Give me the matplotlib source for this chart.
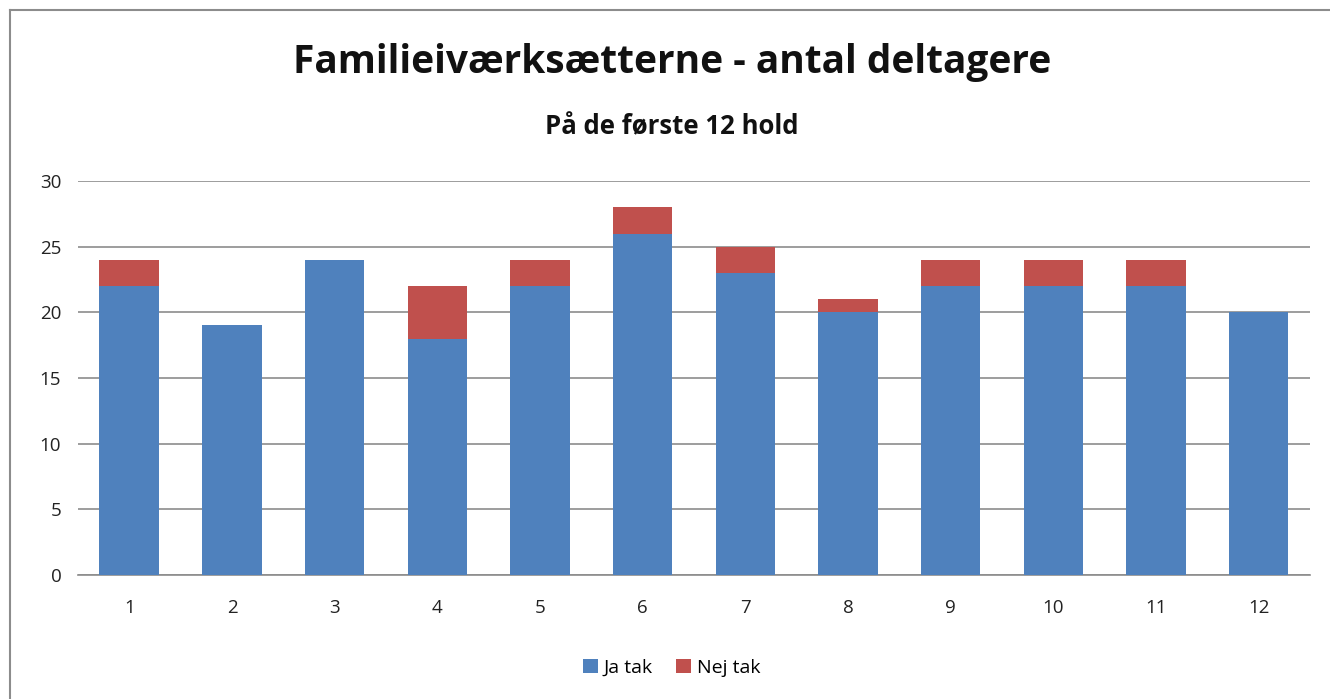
import matplotlib.pyplot as plt
import numpy as np

plt.rcParams['font.family'] = ['Open Sans', 'DejaVu Sans']

hold = ['1', '2', '3', '4', '5', '6', '7', '8', '9', '10', '11', '12']
ja_tak = [22, 19, 24, 18, 22, 26, 23, 20, 22, 22, 22, 20]
nej_tak = [2, 0, 0, 4, 2, 2, 2, 1, 2, 2, 2, 0]

fig = plt.figure(figsize=(13.3, 6.99), dpi=100)
ax = fig.add_axes([0.0586, 0.1774, 0.9264, 0.5636])

x = np.arange(len(hold))
ax.bar(x, ja_tak, width=0.58, color='#4F81BD', label='Ja tak', zorder=3)
ax.bar(x, nej_tak, width=0.58, bottom=ja_tak, color='#C0504D', label='Nej tak', zorder=3)

ax.set_xlim(-0.5, len(hold) - 0.5)
ax.set_ylim(0, 30)
ax.set_yticks(range(0, 31, 5))
ax.set_xticks(x)
ax.set_xticklabels(hold)
ax.yaxis.grid(True, color='#8c8c8c', linewidth=1.2, zorder=0)
for s in ['top', 'right', 'left']:
    ax.spines[s].set_visible(False)
ax.spines['bottom'].set_color('#8c8c8c')
ax.spines['bottom'].set_linewidth(1.2)
ax.tick_params(axis='both', length=0, labelsize=13.5, colors='#222222')
ax.tick_params(axis='x', pad=17)
ax.tick_params(axis='y', pad=12)

fig.text(0.505, 0.91, 'Familieiværksætterne - antal deltagere', ha='center', va='center',
         fontsize=28, fontweight='bold', color='#111111')
fig.text(0.505, 0.818, 'På de første 12 hold', ha='center', va='center',
         fontsize=18.5, fontweight='bold', color='#111111')

fig.legend(loc='center', bbox_to_anchor=(0.505, 0.045), ncol=2, frameon=False,
           fontsize=14, handlelength=0.75, handleheight=0.75, handletextpad=0.3, columnspacing=1.2)

# chart frame
fig.add_artist(plt.Line2D([0.0075, 0.0075], [0, 0.985], color='#8c8c8c', linewidth=1.5))
fig.add_artist(plt.Line2D([0.0075, 1], [0.985, 0.985], color='#8c8c8c', linewidth=1.5))

fig.savefig('out.png', dpi=100)
